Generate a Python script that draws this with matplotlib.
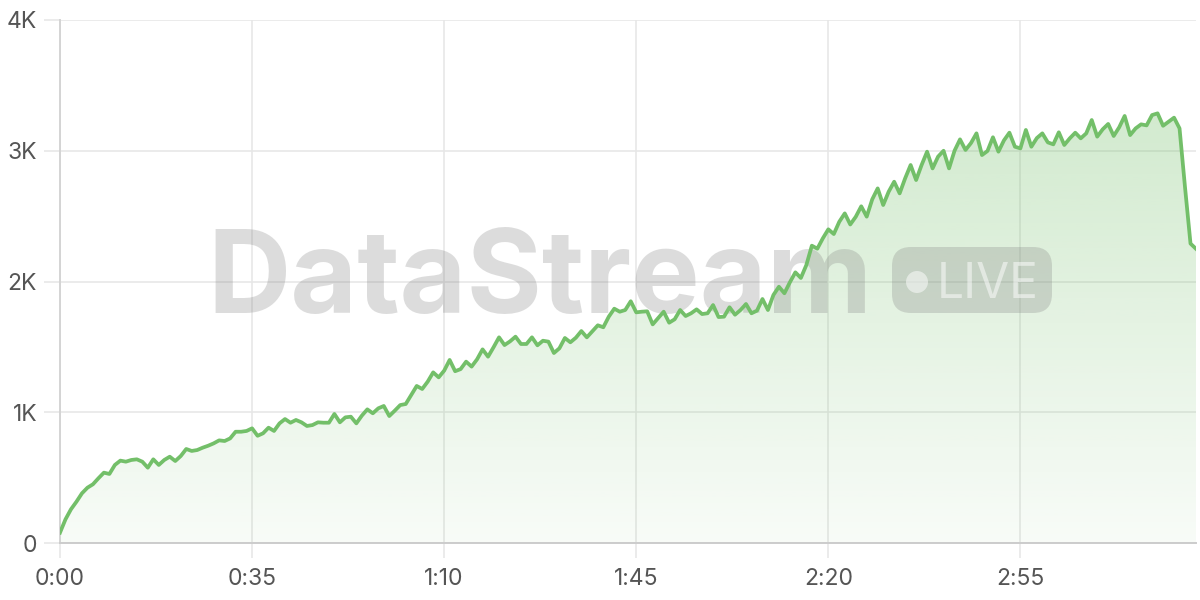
import numpy as np
import matplotlib
matplotlib.use("Agg")
import matplotlib.pyplot as plt
from matplotlib.patches import FancyBboxPatch, Circle

# one sample per second
seconds = list(range(208))
requests = [
    79, 181, 258, 316, 380, 423, 449, 495, 538, 528,
    597, 630, 622, 635, 640, 622, 576, 640, 597, 635,
    660, 627, 665, 719, 704, 711, 729, 744, 762, 785,
    780, 800, 851, 851, 857, 877, 820, 839, 882, 857,
    915, 948, 920, 941, 923, 895, 902, 923, 920, 920,
    987, 923, 961, 966, 915, 974, 1022, 992, 1030, 1048,
    971, 1012, 1055, 1063, 1132, 1201, 1178, 1234, 1305, 1267,
    1318, 1400, 1314, 1330, 1387, 1349, 1405, 1481, 1425, 1497,
    1573, 1514, 1542, 1578, 1522, 1522, 1573, 1512, 1547, 1540,
    1453, 1489, 1568, 1535, 1570, 1621, 1573, 1619, 1665, 1650,
    1731, 1792, 1769, 1782, 1849, 1764, 1769, 1772, 1672, 1720,
    1769, 1685, 1711, 1782, 1736, 1757, 1787, 1751, 1757, 1820,
    1728, 1731, 1803, 1746, 1782, 1828, 1757, 1777, 1866, 1782,
    1897, 1960, 1910, 1994, 2070, 2027, 2126, 2274, 2251, 2330,
    2399, 2363, 2457, 2521, 2436, 2495, 2575, 2496, 2628, 2712,
    2585, 2687, 2763, 2674, 2789, 2891, 2776, 2891, 2993, 2865,
    2955, 3000, 2865, 3000, 3087, 3006, 3059, 3133, 2967, 2998,
    3103, 2993, 3079, 3138, 3031, 3018, 3159, 3031, 3097, 3133,
    3064, 3049, 3141, 3044, 3095, 3138, 3095, 3133, 3235, 3108,
    3164, 3205, 3113, 3179, 3266, 3120, 3171, 3202, 3194, 3273,
    3286, 3191, 3222, 3253, 3171, 2720, 2290, 2250,
]
x_ticks = [0, 35, 70, 105, 140, 175]
y_ticks = [0, 1000, 2000, 3000, 4000]
y_labels = ["0", "1K", "2K", "3K", "4K"]

GREEN = "#73bf69"
GRID = "#e6e6e6"
LABEL = "#555555"

plt.rcParams['font.family'] = ['Inter', 'DejaVu Sans']

fig = plt.figure(figsize=(12, 6), dpi=100)
ax = fig.add_axes((60 / 1200, 57 / 600, 1136 / 1200, 523 / 600))

t = np.array(seconds, dtype=float)
v = np.array(requests, dtype=float)

# gradient fill under the line, clipped to the area
poly = ax.fill_between(t, v, 0, color="none", lw=0)
grad = np.linspace(0, 1, 256).reshape(-1, 1)
rgba = np.zeros((256, 1, 4))
rgba[..., :3] = matplotlib.colors.to_rgb(GREEN)
rgba[..., 3] = 0.05 + 0.27 * grad[..., 0:1] * (4000 / v.max())
rgba[..., 3] = np.clip(rgba[..., 3], 0, 1)
im = ax.imshow(rgba, extent=[0, t[-1], 0, 4000], origin="lower",
               aspect="auto", zorder=1, interpolation="bilinear")
im.set_clip_path(poly.get_paths()[0], transform=ax.transData)

ax.plot(t, v, color=GREEN, lw=2.7, zorder=3, solid_joinstyle="round")


def px(x, y):
    # image pixel coords (top-left origin) -> inches from bottom-left
    return x / 100, (600 - y) / 100


# watermark sits between the fill and the line
wx, wy = px(540, 313)
ax.text(wx, wy, "DataStream", transform=fig.dpi_scale_trans, ha="center",
        va="baseline", fontsize=83, fontweight="bold", color="#7f7f7f",
        alpha=0.27, zorder=2, clip_on=False)
bx, by = px(892, 313)
badge = FancyBboxPatch((bx, by), 1.60, 0.66, boxstyle="round,pad=0,rounding_size=0.19",
                       transform=fig.dpi_scale_trans, fc="#7f7f7f", ec="none",
                       alpha=0.27, zorder=2, clip_on=False)
ax.add_patch(badge)
cx, cy = px(917, 282)
ax.add_patch(Circle((cx, cy), 0.11, transform=fig.dpi_scale_trans, fc="white",
                    ec="none", alpha=0.5, zorder=2, clip_on=False))
lx, ly = px(937, 298)
ax.text(lx, ly, "LIVE", transform=fig.dpi_scale_trans, ha="left", va="baseline",
        fontsize=34.5, color="white", alpha=0.5, zorder=2, clip_on=False)

ax.set_xlim(0, 207)
ax.set_ylim(0, 4000)
ax.set_xticks(x_ticks)
ax.set_xticklabels([f"{s // 60}:{s % 60:02d}" for s in x_ticks])
ax.set_yticks(y_ticks)
ax.set_yticklabels(y_labels)

ax.grid(True, color=GRID, lw=1.1, zorder=0)
ax.set_axisbelow(True)
ax.tick_params(axis="y", length=11.5, width=1.1, color=GRID, pad=5,
               labelsize=16.5, labelcolor=LABEL)
ax.tick_params(axis="x", length=11, width=1.1, color=GRID, pad=7,
               labelsize=16.5, labelcolor=LABEL)
for side in ("top", "right"):
    ax.spines[side].set_visible(False)
ax.spines["left"].set_color("#d4d4d4")
ax.spines["left"].set_linewidth(1.4)
ax.spines["bottom"].set_color("#cccccc")
ax.spines["bottom"].set_linewidth(1.4)

fig.savefig("out.png", dpi=100)
